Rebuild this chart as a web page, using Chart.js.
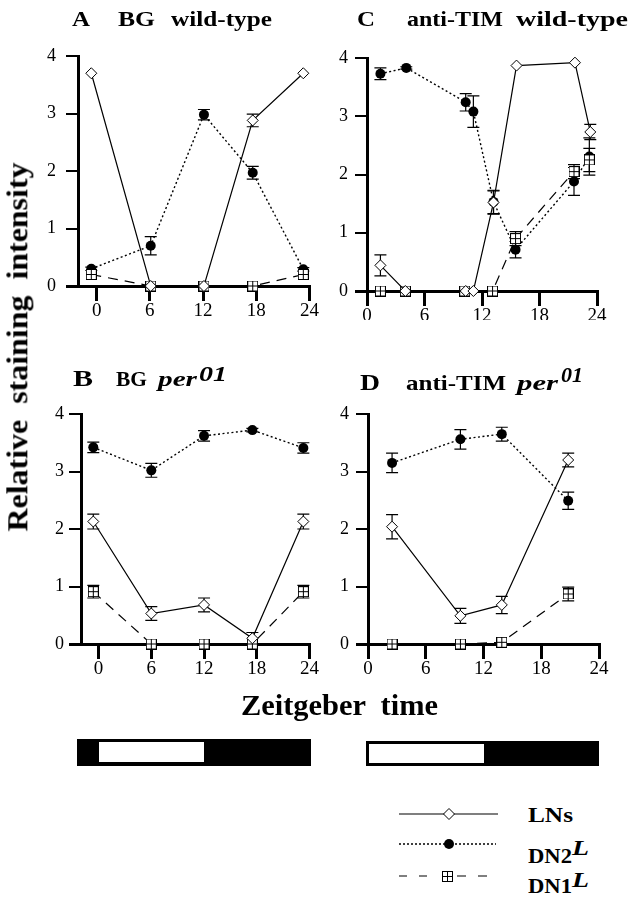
<!DOCTYPE html>
<html>
<head>
<meta charset="utf-8">
<script src="https://cdn.jsdelivr.net/npm/chart.js@4.4.1/dist/chart.umd.min.js"></script>
<style>
  html, body { margin: 0; padding: 0; background: #fff; }
  #page { position: relative; width: 633px; height: 900px; overflow: hidden;
          font-family: "Liberation Serif", "Times New Roman", serif; color: #000; }
  canvas { position: absolute; }
  .txt { position: absolute; white-space: pre; font-weight: bold; line-height: 1; transform-origin: 0 0; }
  .dark { position: absolute; background: #000; }
  .light { position: absolute; background: #fff; }
</style>
</head>
<body>
<div id="page">
  <canvas id="chartA" width="320" height="320" style="left:0;top:0"></canvas>
  <canvas id="chartC" width="323" height="320" style="left:310px;top:0"></canvas>
  <canvas id="chartB" width="320" height="370" style="left:0;top:330px"></canvas>
  <canvas id="chartD" width="323" height="370" style="left:310px;top:330px"></canvas>
  <svg style="position:absolute;left:390px;top:800px" width="120" height="90">
    <line x1="9" y1="14" x2="108" y2="14" stroke="#000" stroke-width="1.2"/>
    <polygon points="59,8.5 64.5,14 59,19.5 53.5,14" fill="#fff" stroke="#000" stroke-width="1"/>
    <line x1="9" y1="44" x2="106" y2="44" stroke="#000" stroke-width="1.5" stroke-dasharray="2 2"/>
    <circle cx="59" cy="44" r="5" fill="#000"/>
    <path d="M9 76H17M29 76H37M52 76H57M67 76H76M88 76H97" stroke="#000" stroke-width="1.2"/>
    <rect x="52.5" y="71.5" width="10" height="10" fill="#fff" stroke="#000" stroke-width="1"/>
    <path d="M57.5 71.5V81.5M52.5 76.5H62.5" stroke="#000" stroke-width="1"/>
  </svg>
</div>
<script>
const ticksX = [0, 6, 12, 18, 24];
const ticksY = [0, 1, 2, 3, 4];
const lightPhase = [0, 12];

// A: BG wild-type
const aTime = [-0.6, 6.1, 12.1, 17.6, 23.3];
const aLns = [3.70, 0, 0, 2.88, 3.70];
const aLnsErr = [0, 0, 0, 0.11, 0];
const aDn2 = [0.30, 0.70, 2.98, 1.97, 0.29];
const aDn2Err = [0.03, 0.16, 0.09, 0.11, 0.03];
const aDn1 = [0.20, 0, 0, 0, 0.20];
const aDn1Err = [0, 0, 0, 0, 0];

// B: BG per01
const bTime = [-0.6, 6.0, 12.0, 17.5, 23.3];
const bLns = [2.13, 0.53, 0.68, 0.10, 2.13];
const bLnsErr = [0.13, 0.12, 0.12, 0.10, 0.13];
const bDn2 = [3.42, 3.02, 3.62, 3.72, 3.41];
const bDn2Err = [0.09, 0.12, 0.09, 0.03, 0.09];
const bDn1 = [0.91, 0, 0, 0, 0.91];
const bDn1Err = [0.11, 0, 0, 0, 0.11];

// C: anti-TIM wild-type
const cLnsTime = [1.4, 4.0, 10.3, 11.1, 13.2, 15.6, 21.7, 23.3];
const cLns = [0.44, 0, 0, 0, 1.52, 3.87, 3.92, 2.73];
const cLnsErr = [0.18, 0, 0, 0, 0.2, 0, 0, 0.13];
const cDn2Time = [1.4, 4.1, 10.3, 11.1, 13.2, 15.5, 21.6, 23.2];
const cDn2 = [3.73, 3.83, 3.24, 3.08, 1.53, 0.71, 1.88, 2.31];
const cDn2Err = [0.1, 0.02, 0.15, 0.27, 0.2, 0.14, 0.24, 0.32];
const cDn1Time = [1.4, 4.0, 10.2, 13.1, 15.5, 21.6, 23.2];
const cDn1 = [0, 0, 0, 0, 0.90, 2.05, 2.25];
const cDn1Err = [0, 0, 0, 0, 0.12, 0.12, 0.2];

// D: anti-TIM per01
const dTime = [2.5, 9.6, 13.9, 20.8];
const dLns = [2.04, 0.49, 0.68, 3.20];
const dLnsErr = [0.21, 0.13, 0.15, 0.12];
const dDn2 = [3.15, 3.56, 3.65, 2.49];
const dDn2Err = [0.17, 0.17, 0.12, 0.15];
const dDn1 = [0, 0, 0.03, 0.87];
const dDn1Err = [0, 0, 0, 0.12];

const SERIF = '"Liberation Serif", "Times New Roman", serif';
const Y_AXIS_W = 40;

// square with a cross for DN1
const boxCross = document.createElement('canvas');
boxCross.width = 11; boxCross.height = 11;
(function () {
  const c = boxCross.getContext('2d');
  c.fillStyle = '#fff'; c.fillRect(0, 0, 11, 11);
  c.strokeStyle = '#000'; c.lineWidth = 1;
  c.strokeRect(0.5, 0.5, 10, 10);
  c.beginPath(); c.moveTo(5.5, 0.5); c.lineTo(5.5, 10.5); c.moveTo(0.5, 5.5); c.lineTo(10.5, 5.5); c.stroke();
})();

function pts(xs, ys) {
  return xs.map((x, i) => ({ x: x, y: ys[i] }));
}

// error bars drawn under the points
const errorBars = {
  id: 'errorBars',
  beforeDatasetsDraw(chart) {
    const ctx = chart.ctx;
    const yScale = chart.scales.y;
    ctx.save();
    ctx.strokeStyle = '#000';
    ctx.lineWidth = 1.2;
    chart.data.datasets.forEach((ds, di) => {
      const meta = chart.getDatasetMeta(di);
      meta.data.forEach((pt, i) => {
        const e = ds.errors[i];
        if (!e) return;
        const v = ds.data[i].y;
        const top = yScale.getPixelForValue(v + e);
        const bot = yScale.getPixelForValue(v - e);
        ctx.beginPath();
        ctx.moveTo(pt.x, top); ctx.lineTo(pt.x, bot);
        ctx.moveTo(pt.x - 6, top); ctx.lineTo(pt.x + 6, top);
        ctx.moveTo(pt.x - 6, bot); ctx.lineTo(pt.x + 6, bot);
        ctx.stroke();
      });
    });
    ctx.restore();
  }
};

function series(data, errors, kind) {
  const base = { data: data, errors: errors, borderColor: '#000', borderWidth: 1.2,
                 fill: false, tension: 0, clip: false, pointBorderColor: '#000' };
  if (kind === 'lns') {
    return Object.assign(base, { pointStyle: 'rectRot', pointRadius: 5.5,
      pointBackgroundColor: '#fff', pointBorderWidth: 1, order: 1 });
  }
  if (kind === 'dn2') {
    return Object.assign(base, { borderDash: [2, 2.5], borderWidth: 1.4, pointStyle: 'circle',
      pointRadius: 5, pointBackgroundColor: '#000', pointBorderWidth: 0, order: 3 });
  }
  return Object.assign(base, { borderDash: [10, 7], pointStyle: boxCross, pointRadius: 5, order: 2 });
}

// chart area runs from the y axis (xMin) to ZT 24
function makePanel(id, sets, xMin, pad, labelPad) {
  return new Chart(document.getElementById(id), {
    type: 'line',
    data: { datasets: sets },
    options: {
      responsive: false,
      animation: false,
      devicePixelRatio: 1,
      layout: { padding: pad },
      plugins: { legend: { display: false }, tooltip: { enabled: false } },
      scales: {
        x: {
          type: 'linear', min: xMin, max: 24, position: { y: 0 },
          afterBuildTicks: (s) => { s.ticks = ticksX.map((v) => ({ value: v })); },
          grid: { drawOnChartArea: false, drawTicks: true, tickLength: 13, lineWidth: 3, color: '#000' },
          border: { display: true, color: '#000', width: 3 },
          ticks: { color: '#000', font: { family: SERIF, size: 19 }, padding: 1, maxRotation: 0, autoSkip: false }
        },
        y: {
          type: 'linear', min: 0, max: 4, position: 'left',
          afterBuildTicks: (s) => { s.ticks = ticksY.map((v) => ({ value: v })); },
          afterFit: (s) => { s.width = Y_AXIS_W; },
          grid: { drawOnChartArea: false, drawTicks: true, tickLength: 12, color: '#000',
                  lineWidth: (c) => (c.tick && c.tick.value === 0 ? 3 : 2) },
          border: { display: true, color: '#000', width: 3 },
          ticks: { color: '#000', font: { family: SERIF, size: 18 }, padding: labelPad, autoSkip: false }
        }
      }
    },
    plugins: [errorBars]
  });
}

const chartA = makePanel('chartA', [
  series(pts(aTime, aLns), aLnsErr, 'lns'),
  series(pts(aTime, aDn2), aDn2Err, 'dn2'),
  series(pts(aTime, aDn1), aDn1Err, 'dn1')
], -2.1, { left: 78 - Y_AXIS_W, right: 10, top: 56, bottom: 34 }, 10);

const chartC = makePanel('chartC', [
  series(pts(cLnsTime, cLns), cLnsErr, 'lns'),
  series(pts(cDn2Time, cDn2), cDn2Err, 'dn2'),
  series(pts(cDn1Time, cDn1), cDn1Err, 'dn1')
], 0, { left: 57 - Y_AXIS_W, right: 36, top: 58, bottom: 29 }, 7);

const chartB = makePanel('chartB', [
  series(pts(bTime, bLns), bLnsErr, 'lns'),
  series(pts(bTime, bDn2), bDn2Err, 'dn2'),
  series(pts(bTime, bDn1), bDn1Err, 'dn1')
], -2.0, { left: 81 - Y_AXIS_W, right: 8, top: 84, bottom: 56 }, 5);

const chartD = makePanel('chartD', [
  series(pts(dTime, dLns), dLnsErr, 'lns'),
  series(pts(dTime, dDn2), dDn2Err, 'dn2'),
  series(pts(dTime, dDn1), dDn1Err, 'dn1')
], 0, { left: 58 - Y_AXIS_W, right: 34, top: 84, bottom: 56 }, 7);

// light/dark bars under the lower panels, placed from their time scales
const page = document.getElementById('page');
function box(cls, left, top, w, h) {
  const el = document.createElement('div');
  el.className = cls;
  Object.assign(el.style, { left: left + 'px', top: top + 'px', width: w + 'px', height: h + 'px' });
  page.appendChild(el);
}
(function () {
  const sb = chartB.scales.x, sd = chartD.scales.x;
  const b0 = sb.getPixelForValue(lightPhase[0]), b1 = sb.getPixelForValue(lightPhase[1]);
  box('dark', 77, 739, sb.getPixelForValue(24) + 1 - 77, 27);
  box('light', b0, 742, b1 - b0, 20);
  const d0 = 310 + sd.getPixelForValue(lightPhase[0]), d1 = 310 + sd.getPixelForValue(lightPhase[1]);
  const dEnd = 310 + sd.getPixelForValue(24);
  box('dark', d0 - 2, 741, dEnd - d0 + 2, 25);
  box('light', d0 + 1, 744, d1 - d0 - 1, 19);
})();

// text, stretched to the widths in the figure
function placeText(str, x1, x2, base, size, italic) {
  const el = document.createElement('span');
  el.className = 'txt';
  el.textContent = str;
  el.style.fontSize = size + 'px';
  if (italic) el.style.fontStyle = 'italic';
  el.style.left = x1 + 'px';
  el.style.top = (base - 0.84 * size) + 'px';
  page.appendChild(el);
  const k = (x2 - x1) / el.getBoundingClientRect().width;
  el.style.transform = 'scaleX(' + k + ')';
  return el;
}

placeText('A', 72, 90, 27, 21);
placeText('BG', 118, 155, 27, 21);
placeText('wild-type', 171, 272, 27, 21);
placeText('C', 357, 375, 27, 21);
placeText('anti-TIM', 407, 503, 27, 21);
placeText('wild-type', 516, 628, 27, 21);
placeText('B', 73, 93, 386, 23);
placeText('BG', 116, 147, 386, 22);
placeText('per', 158, 197, 386, 22, true);
placeText('01', 199, 227, 381, 20, true);
placeText('D', 360, 380, 390, 23);
placeText('anti-TIM', 406, 506, 390, 22);
placeText('per', 517, 558, 390, 22, true);
placeText('01', 561, 583, 382, 20, true);
placeText('Zeitgeber  time', 241, 438, 715, 30);
placeText('LNs', 528, 573, 823, 21);
placeText('DN2', 528, 572, 863, 22);
placeText('L', 572, 589, 855, 22, true);
placeText('DN1', 528, 572, 893, 22);
placeText('L', 572, 589, 887, 22, true);

// rotated y label
(function () {
  const el = document.createElement('span');
  el.className = 'txt';
  el.textContent = 'Relative  staining  intensity';
  el.style.fontSize = '30px';
  page.appendChild(el);
  const r = el.getBoundingClientRect();
  const k = 369 / r.width;
  el.style.left = (17 - r.width / 2) + 'px';
  el.style.top = (347 - r.height / 2) + 'px';
  el.style.transformOrigin = '50% 50%';
  el.style.transform = 'rotate(-90deg) scaleX(' + k + ')';
})();
</script>
</body>
</html>
